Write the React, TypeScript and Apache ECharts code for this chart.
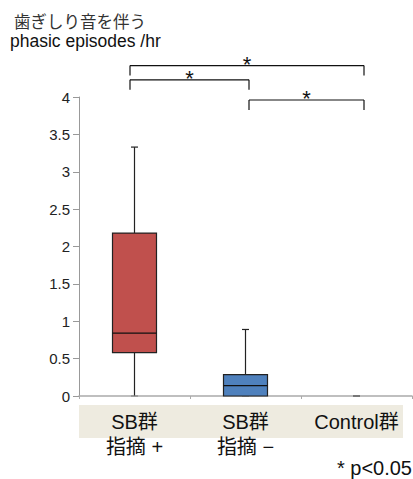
import React, { useEffect, useRef } from "react";
import * as echarts from "echarts";

const categories = ["SB群\n指摘 +", "SB群\n指摘 −", "Control群"];
// [min, q1, median, q3, max]
const boxStats = [
  [0, 0.58, 0.84, 2.18, 3.33],
  [0, 0, 0.14, 0.285, 0.89],
  [0, 0, 0, 0, 0],
];
const boxColors = ["#c0504d", "#4f81bd", "#9bbb59"];
// [fromIndex, toIndex, level value]
const brackets = [
  [0, 2, 4.42],
  [0, 1, 4.23],
  [1, 2, 3.96],
];
const yTicks = { min: 0, max: 4, interval: 0.5 };

const FONT = "'Liberation Sans', 'Noto Sans CJK JP', sans-serif";

export default function App() {
  const ref = useRef<HTMLDivElement>(null);
  useEffect(() => {
    document.body.style.margin = "0";
    const chart = echarts.init(ref.current!, null, { renderer: "svg" });
    const boxData = boxStats.map((s, i) => [i, ...s]);
    const leftOff = [-4.5, 3.5, 3.5];
    const rightOff = [-4.5, 3.5, 7.5];
    chart.setOption({
      animation: false,
      backgroundColor: "#ffffff",
      grid: { left: 79, right: 1, top: 97, bottom: 83 },
      xAxis: {
        type: "category",
        data: categories,
        boundaryGap: true,
        axisLine: { lineStyle: { color: "#aaaaaa", width: 1.5 } },
        axisTick: { show: true, length: 3, lineStyle: { color: "#aaaaaa" } },
        axisLabel: {
          color: "#111",
          fontSize: 20,
          fontFamily: FONT,
          lineHeight: 25,
          margin: 13,
        },
      },
      yAxis: {
        type: "value",
        min: yTicks.min,
        max: yTicks.max,
        interval: yTicks.interval,
        splitLine: { show: false },
        axisLine: { show: true, lineStyle: { color: "#999999" } },
        axisTick: { show: true, length: 6, lineStyle: { color: "#999999" } },
        axisLabel: { color: "#222", fontSize: 15, fontFamily: FONT, margin: 9 },
      },
      graphic: [
        {
          type: "rect",
          z: -1,
          shape: { x: 79, y: 405, width: 324, height: 33 },
          style: { fill: "#eeebe0" },
        },
        {
          type: "text",
          x: 14,
          y: 21,
          style: { text: "歯ぎしり音を伴う", fontSize: 16.5, fill: "#333", fontFamily: "'Noto Sans CJK JP', sans-serif", verticalAlign: "middle" },
        },
        {
          type: "text",
          x: 10,
          y: 41,
          style: { text: "phasic episodes /hr", fontSize: 17.5, fill: "#111", fontFamily: FONT, verticalAlign: "middle" },
        },
        {
          type: "text",
          x: 412,
          y: 468,
          style: { text: "* p<0.05", fontSize: 20, fill: "#111", fontFamily: FONT, align: "right", verticalAlign: "middle" },
        },
      ],
      series: [
        {
          type: "custom",
          data: boxData,
          renderItem: (params: any, api: any) => {
            const i = api.value(0);
            const mn = api.value(1), q1 = api.value(2), md = api.value(3), q3 = api.value(4), mx = api.value(5);
            const pMax = api.coord([i, mx]);
            const pMin = api.coord([i, mn]);
            const pQ1 = api.coord([i, q1]);
            const pQ3 = api.coord([i, q3]);
            const pMd = api.coord([i, md]);
            const cx = pMax[0];
            const bw = 44;
            const cw = 7;
            const ls = { stroke: "#222", lineWidth: 1.2 };
            const children: any[] = [
              { type: "line", shape: { x1: cx, y1: pMax[1], x2: cx, y2: pQ3[1] }, style: ls },
              { type: "line", shape: { x1: cx, y1: pQ1[1], x2: cx, y2: pMin[1] }, style: ls },
              { type: "line", shape: { x1: cx - cw / 2, y1: pMax[1], x2: cx + cw / 2, y2: pMax[1] }, style: ls },
              { type: "line", shape: { x1: cx - cw / 2, y1: pMin[1], x2: cx + cw / 2, y2: pMin[1] }, style: { stroke: "#888", lineWidth: 1.2 } },
            ];
            if (q3 > q1) {
              children.push({
                type: "rect",
                shape: { x: cx - bw / 2, y: pQ3[1], width: bw, height: pQ1[1] - pQ3[1] },
                style: { fill: boxColors[i], stroke: "#222", lineWidth: 1.2 },
              });
              children.push({
                type: "line",
                shape: { x1: cx - bw / 2, y1: pMd[1], x2: cx + bw / 2, y2: pMd[1] },
                style: { stroke: "#111", lineWidth: 1.2 },
              });
            }
            return { type: "group", children };
          },
          z: 5,
        },
        {
          type: "custom",
          data: brackets,
          clip: false,
          renderItem: (params: any, api: any) => {
            const a = api.value(0), b = api.value(1), lv = api.value(2);
            const p1 = api.coord([a, lv]);
            const p2 = api.coord([b, lv]);
            const x1 = p1[0] + leftOff[a];
            const x2 = p2[0] + rightOff[b];
            const y = p1[1];
            const ls = { stroke: "#111", lineWidth: 1.2 };
            return {
              type: "group",
              children: [
                { type: "line", shape: { x1, y1: y, x2, y2: y }, style: ls },
                { type: "line", shape: { x1, y1: y, x2: x1, y2: y + 10 }, style: ls },
                { type: "line", shape: { x1: x2, y1: y, x2, y2: y + 10 }, style: ls },
                {
                  type: "text",
                  x: (x1 + x2) / 2,
                  y: y - 1,
                  style: { text: "*", fontSize: 22, fill: "#111", fontFamily: FONT, align: "center", verticalAlign: "middle" },
                },
              ],
            };
          },
        },
      ],
    });
    return () => chart.dispose();
  }, []);
  return <div ref={ref} style={{ width: 413, height: 479 }} />;
}
